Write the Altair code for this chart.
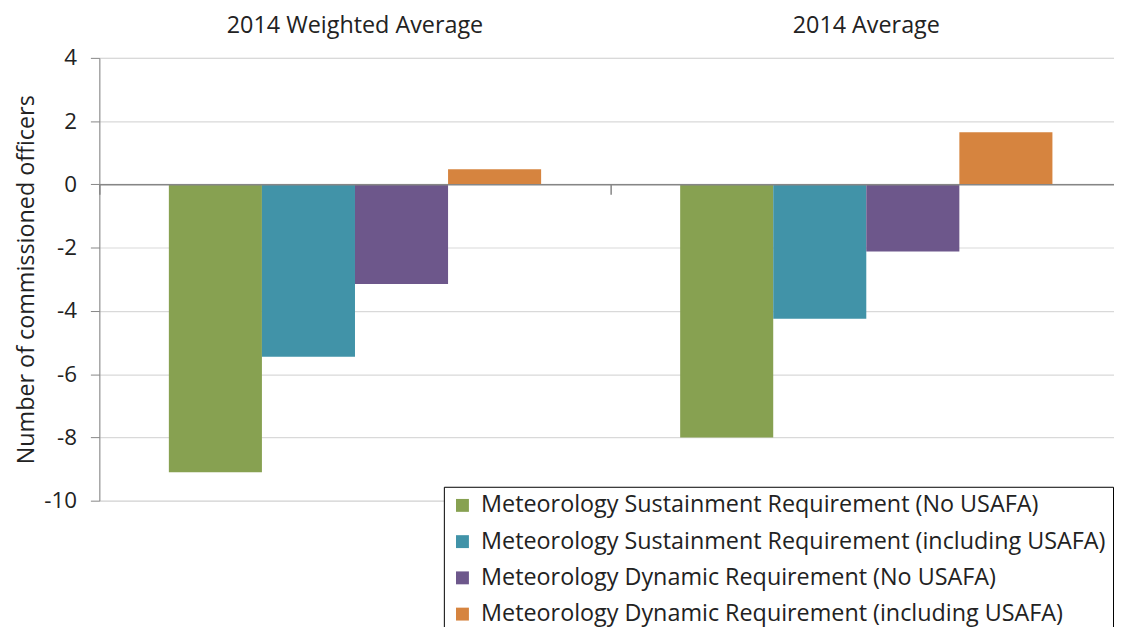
import altair as alt
import pandas as pd

groups = ["2014 Weighted Average", "2014 Average"]
series = [
    "Meteorology Sustainment Requirement (No USAFA)",
    "Meteorology Sustainment Requirement (including USAFA)",
    "Meteorology Dynamic Requirement (No USAFA)",
    "Meteorology Dynamic Requirement (including USAFA)",
]
weighted_avg = [-9.1, -5.45, -3.15, 0.48]
plain_avg = [-8.0, -4.25, -2.12, 1.65]
colors = ["#87A151", "#4193A8", "#6D578B", "#D6843F"]
y_ticks = [-10, -8, -6, -4, -2, 0, 2, 4]

rows = []
for g, vals in zip(groups, [weighted_avg, plain_avg]):
    for s, v in zip(series, vals):
        rows.append({"group": g, "series": s, "value": v})
df = pd.DataFrame(rows)

FONT = "Open Sans"
FS = 23.5
TXT = "#222222"
AXC = "#868686"

x_scale = alt.Scale(domain=groups, paddingInner=0, paddingOuter=0, range=[0, 1030])
xoff_scale = alt.Scale(domain=series, paddingInner=0, paddingOuter=0.747)
y_scale = alt.Scale(domain=[-10, 4], nice=False, zero=False)

bars = alt.Chart(df).mark_bar().encode(
    x=alt.X(
        "group:N",
        scale=x_scale,
        sort=groups,
        axis=alt.Axis(
            orient="top", title=None, domain=False, ticks=False, tickSize=0,
            labelAngle=0, labelFont=FONT, labelFontSize=FS, labelColor=TXT,
            labelPadding=21, labelLimit=1000, grid=False,
        ),
    ),
    xOffset=alt.XOffset("series:N", scale=xoff_scale, sort=series),
    y=alt.Y(
        "value:Q",
        scale=y_scale,
        axis=alt.Axis(
            values=y_ticks, title="Number of commissioned officers",
            titleFont=FONT, titleFontSize=FS, titleFontWeight="normal",
            titleColor=TXT, titlePadding=5,
            labelFont=FONT, labelFontSize=22.5, labelColor=TXT, labelPadding=14,
            labelExpr="'' + datum.value",
            tickSize=9, tickColor=AXC, domainColor=AXC,
            grid=True, gridColor="#d9d9d9", gridWidth=1.2,
        ),
    ),
    color=alt.Color(
        "series:N",
        scale=alt.Scale(domain=series, range=colors),
        sort=series,
        legend=alt.Legend(
            title=None, orient="none", legendX=347, legendY=432,
            fillColor="white", strokeColor="black", padding=7,
            symbolType="square", symbolSize=169, symbolStrokeWidth=0,
            labelFont=FONT, labelFontSize=FS, labelColor=TXT,
            labelOffset=7, rowPadding=11.5, labelLimit=1000,
        ),
    ),
)

zero_axis = alt.Chart(df).mark_bar(opacity=0).encode(
    x=alt.X(
        "group:N",
        scale=x_scale,
        sort=groups,
        axis=alt.Axis(
            orient="bottom", title=None, labels=False, grid=False,
            offset=-318.6, domainColor=AXC, domainWidth=1.5,
            tickColor=AXC, tickSize=10, tickWidth=1.5, bandPosition=0, zindex=1,
        ),
    ),
    y=alt.Y("value:Q", scale=y_scale),
)

chart = (
    alt.layer(bars, zero_axis)
    .resolve_axis(x="independent")
    .properties(
        width=1022,
        height=446,
        autosize=alt.AutoSizeParams(type="none"),
        padding={"left": 92, "top": 48, "right": 0, "bottom": 125},
    )
    .configure_view(stroke=None)
    .configure_legend(strokeWidth=2.5)
    .configure(background="white")
)

chart.save("out.html", embed_options={"renderer": "svg", "actions": False})
